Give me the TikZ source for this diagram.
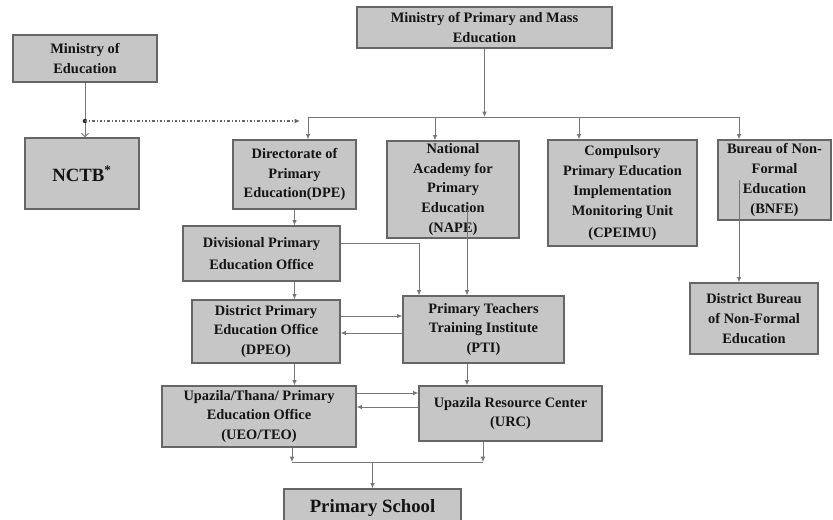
\documentclass[tikz,border=0pt]{standalone}
\usepackage{fontspec}
\setmainfont{Liberation Serif}
\usetikzlibrary{arrows.meta}

\definecolor{boxfill}{HTML}{C6C6C6}
\definecolor{boxline}{HTML}{666666}
\definecolor{linkline}{HTML}{777777}
\def\pxu{0.3mm}

\tikzset{
	orgbox/.style={draw=boxline, line width=1.1pt, fill=boxfill, inner sep=0pt, align=center,
		text=black!92, font=\bfseries\fontsize{12.3}{17}\selectfont},
	bigbox/.style={orgbox, font=\bfseries\fontsize{16}{19}\selectfont},
	link/.style={draw=linkline, line width=0.8pt},
	arr/.style={link, -{Latex[length=4.5pt,width=4pt]}},
	barb/.style={link, -{Straight Barb[length=3pt,width=6pt]}},
	dotlink/.style={draw=black!60, line width=0.9pt, dash pattern=on 2pt off 1.8pt on 0.8pt off 1.8pt,
		-{Latex[length=4.5pt,width=4pt]}},
}

\begin{document}
\begin{tikzpicture}[x=\pxu, y=-\pxu]
		%%%%% START %%%%%
		\useasboundingbox (0,0) rectangle (833,519);
		
		\node[orgbox, minimum width=144*\pxu, minimum height=47*\pxu] (moe) at (85,58.5) {Ministry of\\Education};
		\node[orgbox, minimum width=255*\pxu, minimum height=41*\pxu] (mopme) at (484.5,27.5) {Ministry of Primary and Mass\\Education};
		\node[bigbox, minimum width=114*\pxu, minimum height=71*\pxu] (nctb) at (82,173.5) {NCTB\textsuperscript{*}};
		
		\node[orgbox, minimum width=123*\pxu, minimum height=69*\pxu] (dpe) at (294.5,174.5) {Directorate of\\Primary\\Education(DPE)};
		\node[orgbox, minimum width=132*\pxu, minimum height=97*\pxu] (nape) at (453,189.5) {National\\Academy for\\Primary\\Education\\(NAPE)};
		\node[orgbox, minimum width=149*\pxu, minimum height=106*\pxu] (cpeimu) at (622.5,193) {Compulsory\\Primary Education\\Implementation\\Monitoring Unit\\[2pt](CPEIMU)};
		\node[orgbox, minimum width=113*\pxu, minimum height=80*\pxu] (bnfe) at (774.5,180) {Bureau of Non-\\Formal\\Education\\(BNFE)};
		\node[orgbox, minimum width=128*\pxu, minimum height=71*\pxu] (dbnfe) at (754,318.5) {District Bureau\\of Non-Formal\\Education};
		
		\node[orgbox, minimum width=157*\pxu, minimum height=55*\pxu] (div) at (261.5,253.5) {Divisional Primary\\[2pt]Education Office};
		\node[orgbox, minimum width=148*\pxu, minimum height=63*\pxu] (dpeo) at (266,331.5) {District Primary\\Education Office\\(DPEO)};
		\node[orgbox, minimum width=161*\pxu, minimum height=67*\pxu] (pti) at (483.5,329.5) {Primary Teachers\\Training Institute\\(PTI)};
		\node[orgbox, minimum width=194*\pxu, minimum height=61*\pxu] (ueo) at (259,416.5) {Upazila/Thana/ Primary\\Education Office\\(UEO/TEO)};
		\node[orgbox, minimum width=183*\pxu, minimum height=55*\pxu] (urc) at (510.5,413.5) {Upazila Resource Center\\(URC)};
		\node[bigbox, minimum width=177*\pxu, minimum height=38*\pxu] (ps) at (372.5,508) {Primary School};
		
		% levels and columns of the connectors
		\coordinate (split) at (85,121);
		\coordinate (dotend) at (300,121);
		\coordinate (bus1) at (308,117);
		\coordinate (bus2) at (435,117);
		\coordinate (bus3) at (579,117);
		\coordinate (bus4) at (739,117);
		\coordinate (divpti) at (419,243);
		\coordinate (midpti) at (467,210);
		\coordinate (lvA) at (0,316);
		\coordinate (lvB) at (0,333);
		\coordinate (lvC) at (0,393);
		\coordinate (lvD) at (0,407);
		\coordinate (lowL) at (292,462);
		\coordinate (lowR) at (483,462);
		
		\draw[barb] (moe.south) -- (moe.south |- nctb.north);
		\fill[black!85] (split) circle[radius=1.9pt];
		\draw[dotlink] (split) -- (dotend);
		
		\draw[arr] (mopme.south) -- (mopme.south |- bus1);
		\draw[link] (bus1) -- (bus4);
		\draw[arr] (bus1) -- (bus1 |- dpe.north);
		\draw[arr] (bus2) -- (bus2 |- nape.north);
		\draw[arr] (bus3) -- (bus3 |- cpeimu.north);
		\draw[arr] (bus4) -- (bus4 |- bnfe.north);
		\draw[arr] (bnfe.center -| bus4) -- (bus4 |- dbnfe.north);
		
		\draw[arr] (dpe.south) -- (dpe.south |- div.north);
		\draw[arr] (div.east |- divpti) -| (divpti |- pti.north);
		\draw[arr] (midpti) -- (midpti |- pti.north);
		\draw[arr] (dpe.south |- div.south) -- (dpe.south |- dpeo.north);
		\draw[arr] (dpeo.east |- lvA) -- (pti.west |- lvA);
		\draw[arr] (pti.west |- lvB) -- (dpeo.east |- lvB);
		
		\draw[arr] (dpe.south |- dpeo.south) -- (dpe.south |- ueo.north);
		\draw[arr] (midpti |- pti.south) -- (midpti |- urc.north);
		\draw[arr] (ueo.east |- lvC) -- (urc.west |- lvC);
		\draw[arr] (urc.west |- lvD) -- (ueo.east |- lvD);
		
		\draw[arr] (lowL |- ueo.south) -- (lowL);
		\draw[arr] (lowR |- urc.south) -- (lowR);
		\draw[link] (lowL) -- (lowR);
		\draw[arr] (ps.north |- lowL) -- (ps.north);
		
		%%%%% END %%%%%
	\end{tikzpicture}
\end{document}
